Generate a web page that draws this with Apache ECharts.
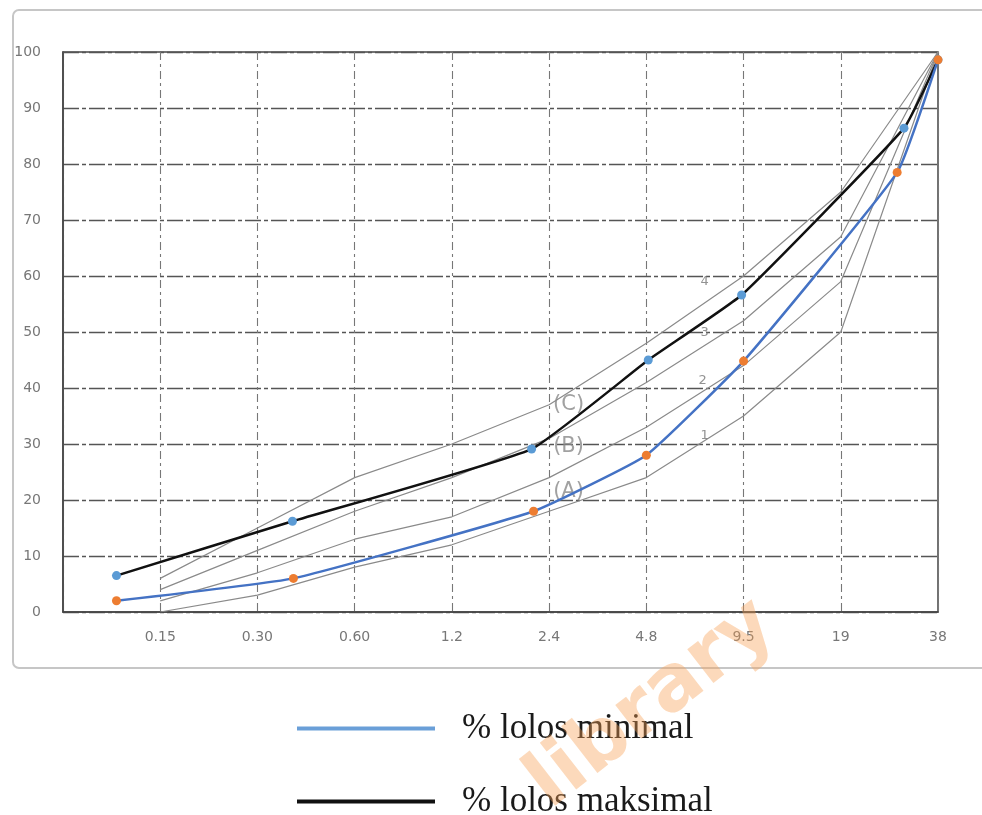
<!DOCTYPE html>
<html>
<head>
<meta charset="utf-8">
<title>Gradasi agregat</title>
<script src="https://cdn.jsdelivr.net/npm/echarts@6/dist/echarts.min.js"></script>
<style>
  html, body { margin: 0; padding: 0; background: #fff; }
  #main { width: 982px; height: 815px; }
</style>
</head>
<body>
<div id="main"></div>
<script>
// sieve tick labels (mm), one per grid column, column 0 is the left edge
var tickLabels = ['', '0.15', '0.30', '0.60', '1.2', '2.4', '4.8', '9.5', '19', '38'];

// printed grading curves 1..4, values at columns 1..9
var curvePos = [1, 2, 3, 4, 5, 6, 7, 8, 9];
var curve1 = [0, 3, 8, 12, 18, 24, 35, 50, 100];
var curve2 = [2, 7, 13, 17, 24, 33, 44, 59, 100];
var curve3 = [4, 11, 18, 24, 31, 41, 52, 67, 100];
var curve4 = [6, 15, 24, 30, 37, 48, 60, 75, 100];

// % lolos minimal
var minPos = [0.55, 2.37, 4.84, 6.0, 7.0, 8.58, 9.0];
var minVal = [2, 6, 18, 28, 44.8, 78.5, 98.6];

// % lolos maksimal
var maxPos = [0.55, 2.36, 4.82, 6.02, 6.98, 8.65, 9.0];
var maxVal = [6.5, 16.2, 29.1, 45, 56.6, 86.4, 98.6];

// labels printed on the scanned chart
var zoneLabels = ['(C)', '(B)', '(A)'];
var zonePos = [5.2, 5.2, 5.2];
var zoneVal = [37, 29.5, 21.5];
var curveNames = ['4', '3', '2', '1'];
var curveNamePos = [6.6, 6.6, 6.58, 6.6];
var curveNameVal = [59, 49.8, 41.4, 31.5];

function pairs(xs, ys) {
  return xs.map(function (x, i) { return [x, ys[i]]; });
}

var chart = echarts.init(document.getElementById('main'));

var grayCurve = function (vals) {
  return {
    type: 'line',
    data: pairs(curvePos, vals),
    symbol: 'none',
    silent: true,
    lineStyle: { color: '#8a8a8a', width: 1.2 },
    z: 2
  };
};

var option = {
  backgroundColor: '#fff',
  animation: false,
  graphic: [
    {
      type: 'rect',
      shape: { x: 13, y: 10, width: 1000, height: 658, r: 6 },
      style: { fill: 'none', stroke: '#c6c6c6', lineWidth: 2 },
      z: -1
    },
    {
      type: 'text',
      x: 652,
      y: 705,
      rotation: 0.66,
      style: {
        text: 'library',
        font: 'bold 78px "DejaVu Sans"',
        fill: 'rgba(248,160,85,0.4)',
        align: 'center',
        verticalAlign: 'middle'
      },
      z: 100
    }
  ],
  grid: {
    left: 63,
    right: 44,
    top: 52,
    bottom: 203,
    show: true,
    borderColor: '#444',
    borderWidth: 1.5
  },
  legend: {
    orient: 'vertical',
    left: 297,
    top: 711,
    height: 300,
    padding: 0,
    itemWidth: 138,
    itemHeight: 4,
    itemGap: 38,
    icon: 'rect',
    textStyle: {
      fontFamily: 'Liberation Serif',
      fontSize: 35,
      color: '#1a1a1a',
      padding: [0, 0, 0, 22]
    },
    data: [
      { name: '% lolos minimal', itemStyle: { color: '#6a9fd8' } },
      { name: '% lolos maksimal', itemStyle: { color: '#111' } }
    ]
  },
  xAxis: {
    type: 'value',
    min: 0,
    max: 9,
    interval: 1,
    axisLine: { show: true, lineStyle: { color: '#444', width: 1.5 } },
    axisTick: { show: false },
    axisLabel: {
      margin: 18,
      color: '#777',
      fontSize: 14,
      fontFamily: 'DejaVu Sans',
      showMinLabel: false,
      formatter: function (v) { return tickLabels[Math.round(v)] || ''; }
    },
    splitLine: {
      show: true,
      lineStyle: { color: '#777', width: 1.1, type: [8, 4, 3, 4] }
    }
  },
  yAxis: {
    type: 'value',
    min: 0,
    max: 100,
    interval: 10,
    axisLine: { show: true, lineStyle: { color: '#444', width: 1.5 } },
    axisTick: { show: false },
    axisLabel: {
      margin: 22,
      color: '#777',
      fontSize: 14,
      fontFamily: 'DejaVu Sans'
    },
    splitLine: {
      show: true,
      lineStyle: { color: '#555', width: 1.3, type: [16, 3, 4, 3] }
    }
  },
  series: [
    grayCurve(curve1),
    grayCurve(curve2),
    grayCurve(curve3),
    grayCurve(curve4),
    {
      type: 'scatter',
      silent: true,
      symbolSize: 0,
      data: pairs(zonePos, zoneVal).map(function (p, i) {
        return { value: p, label: { formatter: zoneLabels[i] } };
      }),
      label: {
        show: true,
        position: 'inside',
        color: '#8a8a8a',
        fontSize: 21,
        fontFamily: 'DejaVu Sans'
      },
      z: 3
    },
    {
      type: 'scatter',
      silent: true,
      symbolSize: 0,
      data: pairs(curveNamePos, curveNameVal).map(function (p, i) {
        return { value: p, label: { formatter: curveNames[i] } };
      }),
      label: {
        show: true,
        position: 'inside',
        color: '#777',
        fontSize: 13,
        fontFamily: 'DejaVu Sans'
      },
      z: 3
    },
    {
      name: '% lolos maksimal',
      type: 'line',
      data: pairs(maxPos, maxVal),
      smooth: 0.12,
      symbol: 'circle',
      symbolSize: 9,
      showAllSymbol: true,
      lineStyle: { color: '#111', width: 2.5 },
      itemStyle: { color: '#5b9bd5' },
      z: 5
    },
    {
      name: '% lolos minimal',
      type: 'line',
      data: pairs(minPos, minVal),
      smooth: 0.12,
      symbol: 'circle',
      symbolSize: 9,
      showAllSymbol: true,
      lineStyle: { color: '#4472c4', width: 2.5 },
      itemStyle: { color: '#ed7d31' },
      z: 6
    }
  ]
};

chart.setOption(option);
</script>
</body>
</html>
